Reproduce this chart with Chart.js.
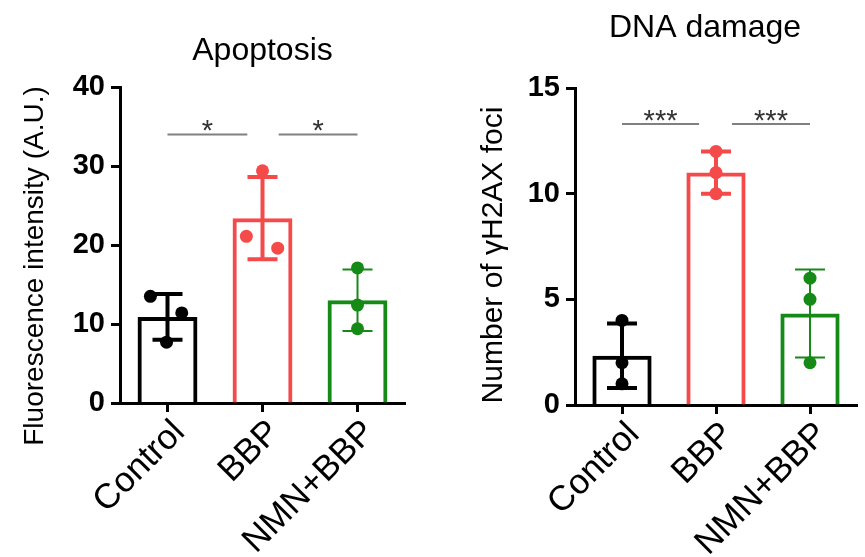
<!DOCTYPE html>
<html>
<head>
<meta charset="utf-8">
<script src="https://cdn.jsdelivr.net/npm/chart.js@4.4.1/dist/chart.umd.min.js"></script>
<style>
  html, body { margin: 0; padding: 0; background: #fff; }
  #wrap { position: relative; width: 865px; height: 557px; }
  .panel { position: absolute; top: 0; height: 557px; }
  #left { left: 0; width: 432px; }
  #right { left: 432px; width: 433px; }
</style>
</head>
<body>
<div id="wrap">
  <div class="panel" id="left"><canvas id="apoChart"></canvas></div>
  <div class="panel" id="right"><canvas id="dnaChart"></canvas></div>
</div>
<script>
// Groupes et couleurs
const groups = ['Control', 'BBP', 'NMN+BBP'];
const groupColors = ['#000000', '#F44A4A', '#168A16'];

// Apoptose : moyennes, écarts-types et réplicats
const apoMean = [10.9, 23.4, 13.0];
const apoSd = [2.9, 5.2, 3.9];
const apoPoints = [[13.5, 11.4, 7.7], [29.4, 21.1, 19.6], [17.1, 12.4, 9.4]];
const apoJitter = [[-0.18, 0.15, -0.01], [0, -0.17, 0.16], [0, 0, 0]];
const apoTicks = [0, 10, 20, 30, 40];
const apoSigFrom = [0, 1.17];
const apoSigTo = [0.84, 2];
const apoSigY = [34, 34];
const apoSigText = ['*', '*'];

// Dommages ADN (foyers γH2AX)
const dnaMean = [2.33, 11.0, 4.33];
const dnaSd = [1.53, 1.0, 2.08];
const dnaPoints = [[4, 2, 1], [12, 11, 10], [6, 5, 2]];
const dnaJitter = [[0, 0, 0], [0, 0, 0], [0, 0, 0]];
const dnaTicks = [0, 5, 10, 15];
const dnaSigFrom = [0, 1.17];
const dnaSigTo = [0.82, 2];
const dnaSigY = [13.3, 13.3];
const dnaSigText = ['***', '***'];

const FONT = '"Liberation Sans", Arial, sans-serif';

// Barres d'erreur (moyenne ± SD) dessinées juste après les barres
const errorBars = {
  id: 'errorBars',
  afterDatasetDraw(chart, args, o) {
    if (args.index !== 0) return;
    const ctx = chart.ctx;
    const y = chart.scales.y;
    ctx.save();
    args.meta.data.forEach((bar, i) => {
      const top = y.getPixelForValue(o.mean[i] + o.sd[i]);
      const bot = y.getPixelForValue(o.mean[i] - o.sd[i]);
      ctx.strokeStyle = groupColors[i];
      ctx.lineWidth = o.widths[i];
      ctx.beginPath();
      ctx.moveTo(bar.x, top); ctx.lineTo(bar.x, bot);
      ctx.moveTo(bar.x - o.cap, top); ctx.lineTo(bar.x + o.cap, top);
      ctx.moveTo(bar.x - o.cap, bot); ctx.lineTo(bar.x + o.cap, bot);
      ctx.stroke();
    });
    ctx.restore();
  }
};

// Lignes de significativité, titre et titre de l'axe Y
const annotations = {
  id: 'annotations',
  afterDraw(chart, args, o) {
    const ctx = chart.ctx, area = chart.chartArea;
    const xs = chart.scales.xj, y = chart.scales.y;
    ctx.save();
    o.from.forEach((f, i) => {
      const x1 = xs.getPixelForValue(f), x2 = xs.getPixelForValue(o.to[i]);
      const yy = y.getPixelForValue(o.at[i]);
      ctx.strokeStyle = '#808080';
      ctx.lineWidth = 2;
      ctx.beginPath(); ctx.moveTo(x1, yy); ctx.lineTo(x2, yy); ctx.stroke();
      ctx.fillStyle = '#333';
      ctx.font = '29px ' + FONT;
      ctx.textAlign = 'center';
      ctx.textBaseline = 'alphabetic';
      ctx.fillText(o.text[i], (x1 + x2) / 2, yy + o.starDy);
    });
    ctx.fillStyle = '#000';
    ctx.font = '32px ' + FONT;
    ctx.textAlign = 'center';
    ctx.fillText(o.title, (area.left + area.right) / 2 + o.titleShift, o.titleBase);
    ctx.translate(o.labelX, o.labelY);
    ctx.rotate(-Math.PI / 2);
    ctx.textBaseline = 'middle';
    ctx.font = o.labelSize + 'px ' + FONT;
    ctx.fillText(o.label, 0, 0);
    ctx.restore();
  }
};

function makeChart(id, cfg) {
  const scatter = [];
  const scatterColors = [];
  cfg.points.forEach((reps, g) => {
    reps.forEach((v, k) => {
      scatter.push({ x: g + cfg.jitter[g][k], y: v });
      scatterColors.push(groupColors[g]);
    });
  });

  return new Chart(document.getElementById(id), {
    type: 'bar',
    data: {
      labels: groups,
      datasets: [{
        data: cfg.mean,
        order: 2,
        xAxisID: 'x',
        grouped: false,
        backgroundColor: 'rgba(255,255,255,0)',
        borderColor: groupColors,
        borderWidth: 4,
        barPercentage: 0.63,
        categoryPercentage: 1
      }, {
        type: 'scatter',
        data: scatter,
        order: 1,
        xAxisID: 'xj',
        pointRadius: 6.5,
        pointBorderWidth: 0,
        pointBackgroundColor: scatterColors
      }]
    },
    options: {
      responsive: true,
      maintainAspectRatio: false,
      animation: false,
      layout: { padding: cfg.padding },
      plugins: {
        legend: { display: false },
        tooltip: { enabled: false },
        errorBars: { mean: cfg.mean, sd: cfg.sd, widths: [4, 4, 2], cap: 15 },
        annotations: cfg.notes
      },
      scales: {
        x: {
          type: 'category',
          offset: true,
          border: { display: true, color: '#000', width: 3 },
          grid: { offset: false, drawOnChartArea: false, drawTicks: true, tickLength: 9, tickWidth: 3, tickColor: '#000' },
          ticks: {
            color: '#000',
            font: { family: FONT, size: 35 },
            maxRotation: 45,
            minRotation: 45,
            autoSkip: false,
            labelOffset: 12,
            padding: 0
          },
          afterFit: s => { s.height = cfg.xHeight; }
        },
        xj: {
          type: 'linear',
          display: false,
          offset: false,
          grid: { offset: false },
          min: -0.5,
          max: 2.5
        },
        y: {
          min: 0,
          max: cfg.ticks[cfg.ticks.length - 1],
          border: { display: true, color: '#000', width: 3 },
          grid: { drawOnChartArea: false, drawTicks: true, tickLength: 9, tickWidth: 3, tickColor: '#000' },
          ticks: {
            color: '#000',
            font: { family: FONT, size: 29, weight: 'bold' },
            padding: 6
          },
          afterBuildTicks: s => { s.ticks = cfg.ticks.map(v => ({ value: v })); },
          afterFit: s => { s.width = cfg.yWidth; }
        }
      }
    },
    plugins: [errorBars, annotations]
  });
}

makeChart('apoChart', {
  mean: apoMean, sd: apoSd, points: apoPoints, jitter: apoJitter, ticks: apoTicks,
  padding: { top: 87, right: 27, bottom: 0, left: 0 },
  yWidth: 120, xHeight: 154,
  notes: {
    from: apoSigFrom, to: apoSigTo, at: apoSigY, text: apoSigText, starDy: 6,
    title: 'Apoptosis', titleShift: 0, titleBase: 60,
    label: 'Fluorescence intensity (A.U.)', labelSize: 28, labelX: 35, labelY: 266
  }
});

makeChart('dnaChart', {
  mean: dnaMean, sd: dnaSd, points: dnaPoints, jitter: dnaJitter, ticks: dnaTicks,
  padding: { top: 88, right: 8, bottom: 0, left: 0 },
  yWidth: 143, xHeight: 152,
  notes: {
    from: dnaSigFrom, to: dnaSigTo, at: dnaSigY, text: dnaSigText, starDy: 6,
    title: 'DNA damage', titleShift: -11, titleBase: 37,
    label: 'Number of γH2AX foci', labelSize: 30, labelX: 62, labelY: 255
  }
});
</script>
</body>
</html>
